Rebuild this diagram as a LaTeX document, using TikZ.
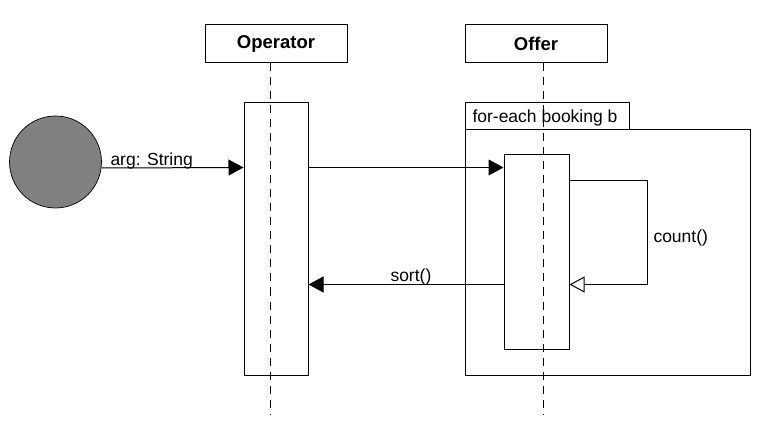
\documentclass[tikz,border=0pt]{standalone}
\usepackage{fontspec}
\setmainfont{Liberation Sans}
\usetikzlibrary{arrows.meta}
\begin{document}
\begin{tikzpicture}[x=1pt,y=-1pt,line width=1pt,
  headbox/.style={draw,rectangle,minimum width=142pt,minimum height=38pt,inner sep=0pt,font=\fontsize{18.5}{22}\selectfont\bfseries},
  actbox/.style={draw,rectangle,inner sep=0pt},
  lifeline/.style={dash pattern=on 8pt off 6pt,line width=0.9pt},
  msg/.style={-{Triangle[length=15pt,width=16pt]}},
  retmsg/.style={-{Triangle[open,length=15pt,width=16pt]}},
  lbl/.style={font=\fontsize{17.5}{20}\selectfont,inner sep=0pt,anchor=base west}]
\useasboundingbox (0,0) rectangle (764,425);
% heads
\node[headbox] (op) at (276,44) {Operator};
\node[headbox] (of) at (536,44) {Offer};
% actor
\node[draw,circle,fill={rgb,255:red,128;green,128;blue,128},minimum size=92pt,inner sep=0pt,line width=0.7pt] (circ) at (55.5,162) {};
% activations
\node[actbox,minimum width=64pt,minimum height=272pt] (act1) at (276,239) {};
\node[actbox,minimum width=65pt,minimum height=194pt] (act2) at (536.5,252) {};
% frame
\node[draw,rectangle,inner sep=0pt,minimum width=285pt,minimum height=245pt] (frame) at (607.5,252.5) {};
\node[draw,rectangle,inner sep=0pt,minimum width=164pt,minimum height=27pt] (tab) at (547,116.5) {};
\node[lbl] (tablbl) at (472,123) {for-each booking b};
% lifelines
\coordinate (l1e) at (270,415);
\coordinate (l2e) at (543,415);
\draw[lifeline] (op.south -| l1e) -- (l1e);
\draw[lifeline] (of.south -| l2e) -- (l2e);
% messages
\draw[msg] ([yshift=-6pt]circ.east) -- ([yshift=-65pt]act1.north west);
\node[lbl] (arglbl) at (110,165.5) {arg: String};
\draw[msg] ([yshift=-65pt]act1.north east) -- ([yshift=-13pt]act2.north west);
\draw[retmsg] ([yshift=-26pt]act2.north east) -- ++(78,0) -- ++(0,104) -- ([yshift=-130pt]act2.north east);
\node[lbl] (countlbl) at (653,243) {count()};
\draw[msg] ([yshift=-130pt]act2.north west) -- ([yshift=-182pt]act1.north east);
\node[lbl] (sortlbl) at (390,281) {sort()};
\end{tikzpicture}
\end{document}
